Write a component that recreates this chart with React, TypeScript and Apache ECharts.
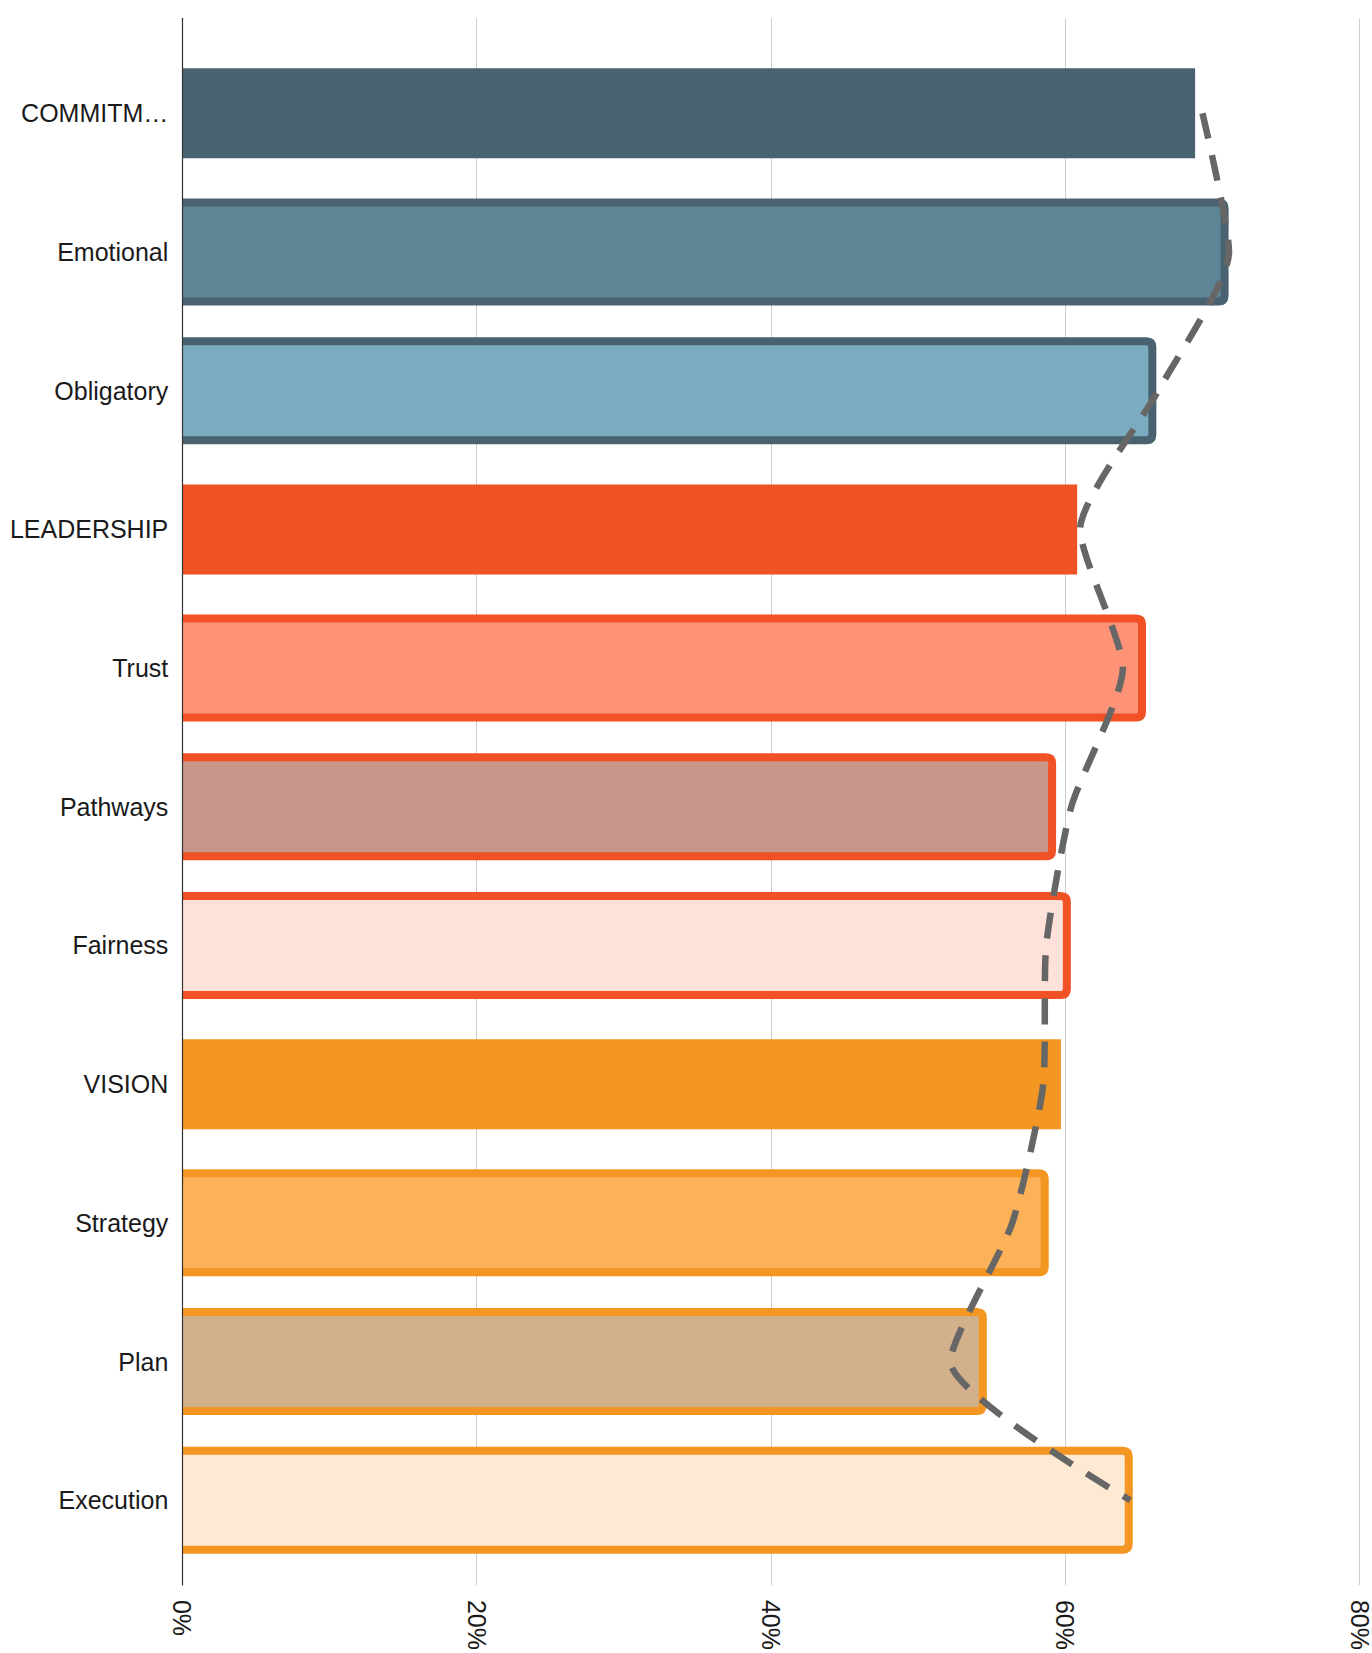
import React, { useEffect, useRef } from "react";
import * as echarts from "echarts";

const categories = [
  "COMMITM…",
  "Emotional",
  "Obligatory",
  "LEADERSHIP",
  "Trust",
  "Pathways",
  "Fairness",
  "VISION",
  "Strategy",
  "Plan",
  "Execution",
];

const barValues = [68.7, 70.7, 65.8, 60.7, 65.1, 59.0, 60.0, 59.6, 58.5, 54.3, 64.2];
const lineValues = [69.2, 71.0, 66.2, 60.9, 63.8, 60.3, 58.6, 58.4, 56.3, 52.1, 64.3];

const fillColors = [
  "#48636F",
  "#5E8596",
  "#7AABC1",
  "#F05125",
  "#FF9377",
  "#C89588",
  "#FEE1D9",
  "#F39622",
  "#FDB158",
  "#D3B08C",
  "#FEE9D3",
];
const borderColors: (string | null)[] = [
  null,
  "#48636F",
  "#48636F",
  null,
  "#F05125",
  "#F05125",
  "#F05125",
  null,
  "#F39622",
  "#F39622",
  "#F39622",
];

const xTicks = [0, 20, 40, 60, 80];

const FONT = 'Arial, "Liberation Sans", Helvetica, sans-serif';

export default function App() {
  const ref = useRef<HTMLDivElement>(null);

  useEffect(() => {
    if (!ref.current) return;
    const chart = echarts.init(ref.current, null, { renderer: "svg" });

    const solidData = barValues.map((v, i) =>
      borderColors[i] === null
        ? { value: v, itemStyle: { color: fillColors[i] } }
        : "-"
    );
    const outlinedData: number[][] = [];
    barValues.forEach((v, i) => {
      if (borderColors[i] !== null) outlinedData.push([v, i]);
    });

    const xMin = xTicks[0];
    const xMax = xTicks[xTicks.length - 1];
    const xInterval = xTicks[1] - xTicks[0];

    const BAR_H = 99;
    const BORDER_W = 8;
    const RADIUS = 6;

    chart.setOption({
      animation: false,
      backgroundColor: "#ffffff",
      textStyle: { fontFamily: FONT },
      grid: [
        { left: 182.3, right: 10.3, top: 44, bottom: 83.4 },
        { left: 182.3, right: 10.3, top: 18.3, bottom: 60.7 },
      ],
      xAxis: [
        {
          type: "value",
          gridIndex: 0,
          min: xMin,
          max: xMax,
          interval: xInterval,
          show: false,
        },
        {
          type: "value",
          gridIndex: 1,
          min: xMin,
          max: xMax,
          interval: xInterval,
          axisLine: { show: false },
          axisTick: { show: false },
          splitLine: { show: true, lineStyle: { color: "#cccccc", width: 1 } },
          axisLabel: {
            rotate: -90,
            margin: 15,
            fontSize: 25,
            color: "#1a1a1a",
            fontFamily: FONT,
            formatter: "{value}%",
          },
        },
      ],
      yAxis: [
        {
          type: "category",
          gridIndex: 0,
          data: categories,
          inverse: true,
          axisLine: { show: false },
          axisTick: { show: false },
          splitLine: { show: false },
          axisLabel: {
            margin: 14,
            fontSize: 25,
            color: "#1a1a1a",
            fontFamily: FONT,
          },
        },
        {
          type: "value",
          gridIndex: 1,
          min: 0,
          max: 1,
          z: 10,
          axisLine: { show: true, onZero: false, lineStyle: { color: "#333333", width: 1.2 } },
          axisTick: { show: false },
          axisLabel: { show: false },
          splitLine: { show: false },
        },
      ],
      series: [
        {
          type: "bar",
          name: "solid",
          xAxisIndex: 0,
          yAxisIndex: 0,
          barWidth: 90,
          data: solidData,
          z: 2,
        },
        {
          type: "custom",
          name: "outlined",
          xAxisIndex: 0,
          yAxisIndex: 0,
          encode: { x: 0, y: 1 },
          data: outlinedData,
          z: 3,
          renderItem: (params: any, api: any) => {
            const v = api.value(0);
            const ci = api.value(1);
            const end = api.coord([v, ci]);
            const start = api.coord([0, ci]);
            const x0 = start[0];
            const x1 = end[0];
            const top = end[1] - BAR_H / 2;
            const bottom = end[1] + BAR_H / 2;
            const r = RADIUS;
            const fill = fillColors[ci];
            const stroke = borderColors[ci] as string;
            const d =
              `M ${x0} ${top} L ${x1 - r} ${top} Q ${x1} ${top} ${x1} ${top + r} ` +
              `L ${x1} ${bottom - r} Q ${x1} ${bottom} ${x1 - r} ${bottom} L ${x0} ${bottom}`;
            return {
              type: "group",
              children: [
                {
                  type: "rect",
                  shape: { x: x0, y: top, width: x1 - x0, height: BAR_H, r: [0, r, r, 0] },
                  style: { fill },
                },
                {
                  type: "path",
                  shape: { pathData: d },
                  style: {
                    fill: "none",
                    stroke,
                    lineWidth: BORDER_W,
                    lineJoin: "round",
                    lineCap: "butt",
                  },
                },
              ],
            };
          },
        },
        {
          type: "line",
          name: "trend",
          xAxisIndex: 0,
          yAxisIndex: 0,
          data: lineValues,
          smooth: 0.2,
          symbol: "none",
          lineStyle: {
            color: "#666666",
            width: 6.5,
            type: [26, 17],
            cap: "butt",
          },
          z: 5,
        },
      ],
    });

    return () => chart.dispose();
  }, []);

  return (
    <div
      ref={ref}
      style={{ position: "absolute", left: 0, top: 0, width: 1372, height: 1653 }}
    />
  );
}
